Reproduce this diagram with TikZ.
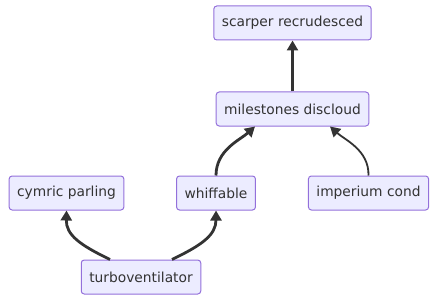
\documentclass[tikz,border=0pt]{standalone}
\usepackage{fontspec}
\setmainfont{DejaVu Sans}
\usepackage{xcolor}
\usetikzlibrary{positioning,arrows.meta}

\definecolor{boxfill}{HTML}{ECECFF}
\definecolor{boxline}{HTML}{9370DB}
\definecolor{ink}{HTML}{333333}

\tikzset{
  flowbox/.style = {draw=boxline, line width=1pt, fill=boxfill, rounded corners=3pt,
    minimum height=34pt, inner xsep=8pt, text=ink, font=\fontsize{13.8}{16}\selectfont},
  link/.style = {draw=ink, line width=2.8pt, -{Triangle[length=10pt,width=11pt]}},
  thinlink/.style = {link, line width=1.8pt},
}

\begin{document}
\begin{tikzpicture}[x=1pt, y=1pt]
  \useasboundingbox (0,0) rectangle (438,-302);

  \node[flowbox] (mile) at (292.5,-109) {milestones discloud};
  \node[flowbox, above=51pt of mile] (scarper) {scarper recrudesced};

  \node[flowbox] (whiff) at (216,-193) {whiffable};
  \node[flowbox] (cymric) at (66.5,-193) {cymric parling};
  \node[flowbox] (imper) at (368.5,-193) {imperium cond};

  \node[flowbox] (turbo) at (141,-277) {turboventilator};

  % edges
  \draw[link] (mile) -- (scarper);
  \draw[link] (whiff.north) .. controls (216,-150) and (240,-140) .. ([xshift=-37.5pt]mile.south);
  \draw[thinlink] (imper.north) .. controls (369,-150) and (345,-140) .. ([xshift=37.5pt]mile.south);
  \draw[link] ([xshift=-31pt]turbo.north) .. controls (80,-245) and (66,-235) .. (cymric.south);
  \draw[link] ([xshift=31pt]turbo.north) .. controls (202,-245) and (216,-235) .. (whiff.south);
\end{tikzpicture}
\end{document}
